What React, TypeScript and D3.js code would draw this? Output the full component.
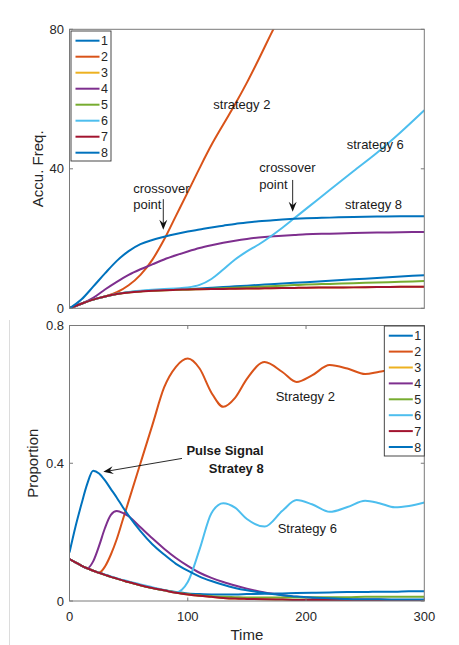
import React, { useEffect, useRef } from 'react';
import * as d3 from 'd3';

const seriesNames = ['1', '2', '3', '4', '5', '6', '7', '8'];
const seriesColors = ['#0072BD', '#D95319', '#EDB120', '#7E2F8E', '#77AC30', '#4DBEEE', '#A2142F', '#0072BD'];

// top panel: accumulated frequency
const accTime = [0, 10, 20, 30, 40, 50, 60, 70, 80, 90, 100, 110, 120, 130, 140, 150, 160, 170, 180, 190, 200, 220, 240, 260, 280, 300];
const acc1 = [0, 1.3, 2.5, 3.4, 4.1, 4.6, 4.9, 5.1, 5.25, 5.4, 5.5, 5.7, 5.9, 6.1, 6.3, 6.5, 6.7, 6.9, 7.1, 7.3, 7.5, 7.9, 8.3, 8.7, 9.1, 9.5];
const acc2 = [0, 1.3, 2.5, 3.4, 4.6, 6.6, 9.6, 13.9, 19.7, 26.5, 33.3, 40.2, 46.8, 52.7, 58.5, 64.7, 71.4, 78.4, 85.2, 91.8, 98.4, 111.6, 125, 138.4, 151.8, 165];
const acc3 = [0, 1.3, 2.5, 3.4, 4.1, 4.55, 4.85, 5.05, 5.2, 5.3, 5.4, 5.45, 5.5, 5.55, 5.6, 5.65, 5.7, 5.75, 5.8, 5.85, 5.9, 5.95, 6.0, 6.1, 6.15, 6.2];
const acc4 = [0, 1.3, 3.0, 5.4, 7.6, 9.6, 11.2, 12.6, 14.0, 15.2, 16.3, 17.3, 18.1, 18.8, 19.4, 19.9, 20.3, 20.6, 20.8, 21.0, 21.2, 21.4, 21.6, 21.7, 21.8, 21.9];
const acc5 = [0, 1.3, 2.5, 3.4, 4.1, 4.6, 4.9, 5.1, 5.2, 5.3, 5.4, 5.5, 5.6, 5.75, 5.9, 6.05, 6.2, 6.35, 6.5, 6.65, 6.8, 7.0, 7.2, 7.4, 7.6, 7.8];
const acc6 = [0, 1.3, 2.5, 3.4, 4.15, 4.7, 5.05, 5.3, 5.5, 5.7, 5.95, 6.7, 8.4, 11.1, 14.0, 16.3, 18.3, 20.6, 23.1, 25.8, 28.5, 33.9, 39.3, 44.6, 50.5, 56.8];
const acc7 = [0, 1.3, 2.5, 3.4, 4.1, 4.55, 4.85, 5.05, 5.2, 5.3, 5.4, 5.45, 5.5, 5.55, 5.6, 5.65, 5.7, 5.75, 5.8, 5.85, 5.9, 5.95, 6.0, 6.1, 6.15, 6.2];
const acc8 = [0, 2.5, 6.2, 10.0, 13.6, 16.4, 18.4, 19.6, 20.5, 21.3, 22.0, 22.6, 23.2, 23.7, 24.2, 24.6, 24.95, 25.2, 25.45, 25.65, 25.8, 26.0, 26.2, 26.3, 26.4, 26.4];

// bottom panel: proportion
const propTime = [0, 5, 10, 15, 20, 25, 30, 35, 40, 45, 50, 60, 70, 80, 90, 100, 110, 120, 130, 140, 150, 165, 180, 192, 205, 220, 235, 250, 262, 275, 287, 300];
const prop1 = [0.122, 0.112, 0.103, 0.095, 0.088, 0.082, 0.076, 0.07, 0.065, 0.06, 0.055, 0.046, 0.038, 0.031, 0.026, 0.022, 0.02, 0.019, 0.019, 0.019, 0.02, 0.021, 0.022, 0.023, 0.024, 0.025, 0.026, 0.026, 0.027, 0.027, 0.028, 0.028];
const prop2 = [0.122, 0.112, 0.103, 0.095, 0.088, 0.082, 0.1, 0.135, 0.18, 0.235, 0.29, 0.4, 0.51, 0.62, 0.68, 0.704, 0.675, 0.605, 0.564, 0.59, 0.645, 0.694, 0.665, 0.636, 0.655, 0.685, 0.675, 0.659, 0.666, 0.672, 0.669, 0.667];
const prop3 = [0.122, 0.112, 0.103, 0.095, 0.088, 0.082, 0.076, 0.07, 0.065, 0.06, 0.055, 0.046, 0.038, 0.031, 0.024, 0.019, 0.015, 0.012, 0.009, 0.007, 0.006, 0.005, 0.004, 0.003, 0.003, 0.003, 0.002, 0.002, 0.002, 0.002, 0.002, 0.002];
const prop4 = [0.122, 0.112, 0.103, 0.095, 0.115, 0.16, 0.212, 0.25, 0.261, 0.256, 0.246, 0.214, 0.182, 0.152, 0.125, 0.102, 0.082, 0.067, 0.055, 0.045, 0.036, 0.025, 0.017, 0.012, 0.009, 0.007, 0.005, 0.004, 0.004, 0.003, 0.003, 0.003];
const prop5 = [0.122, 0.112, 0.103, 0.095, 0.088, 0.082, 0.076, 0.07, 0.065, 0.06, 0.055, 0.046, 0.038, 0.031, 0.025, 0.02, 0.016, 0.014, 0.012, 0.011, 0.01, 0.01, 0.01, 0.01, 0.011, 0.011, 0.011, 0.012, 0.012, 0.012, 0.012, 0.012];
const prop6 = [0.122, 0.112, 0.103, 0.095, 0.088, 0.082, 0.077, 0.071, 0.066, 0.061, 0.057, 0.048, 0.04, 0.032, 0.025, 0.055, 0.15, 0.255, 0.284, 0.271, 0.238, 0.216, 0.262, 0.293, 0.281, 0.259, 0.273, 0.291, 0.284, 0.272, 0.276, 0.286];
const prop7 = [0.122, 0.112, 0.103, 0.095, 0.088, 0.082, 0.076, 0.07, 0.065, 0.06, 0.055, 0.046, 0.038, 0.031, 0.024, 0.019, 0.015, 0.012, 0.009, 0.007, 0.006, 0.005, 0.004, 0.003, 0.003, 0.003, 0.002, 0.002, 0.002, 0.002, 0.002, 0.002];
const prop8 = [0.141, 0.215, 0.28, 0.34, 0.378, 0.37, 0.35, 0.325, 0.3, 0.273, 0.248, 0.203, 0.165, 0.135, 0.108, 0.088, 0.071, 0.058, 0.047, 0.038, 0.031, 0.023, 0.017, 0.013, 0.01, 0.008, 0.006, 0.005, 0.005, 0.004, 0.004, 0.004];

const accTicks = [0, 40, 80];
const propTicks = [0, 0.4, 0.8];
const timeTicks = [0, 100, 200, 300];

const FONT = '"Liberation Sans", Arial, Helvetica, sans-serif';

function App() {
    const svgRef = useRef<SVGSVGElement>(null);

    useEffect(() => {
        drawChart();
    }, []);

    const drawChart = () => {
        const svg = d3.select(svgRef.current);
        svg.selectAll('*').remove();
        svg.attr('font-family', FONT);

        // faint separator left of the lower panel
        svg.append('line')
            .attr('x1', 9.5).attr('x2', 9.5)
            .attr('y1', 320).attr('y2', 645)
            .attr('stroke', '#dcdcdc');

        const x = d3.scaleLinear().domain([0, 300]).range([69.5, 424.3]);
        const yAcc = d3.scaleLinear().domain([0, 80]).range([308.3, 29.3]);
        const yProp = d3.scaleLinear().domain([0, 0.8]).range([601, 325.5]);

        const drawPanel = (id, y, yTicks, fmt, time, series, xTicks, legendX, legendY, legendStep) => {
            const [x0, x1] = x.range();
            const [y0, y1] = y.range();
            const g = svg.append('g');

            g.append('clipPath').attr('id', id)
                .append('rect')
                .attr('x', x0).attr('y', y1)
                .attr('width', x1 - x0).attr('height', y0 - y1);

            g.append('rect')
                .attr('x', x0).attr('y', y1)
                .attr('width', x1 - x0).attr('height', y0 - y1)
                .attr('fill', '#fff');

            const line = d3.line()
                .x((d, i) => x(time[i]))
                .y(d => y(d))
                .curve(d3.curveMonotoneX);

            g.append('g').attr('clip-path', `url(#${id})`)
                .selectAll('path')
                .data(series)
                .enter().append('path')
                .attr('d', d => line(d))
                .attr('fill', 'none')
                .attr('stroke', (d, i) => seriesColors[i])
                .attr('stroke-width', 2)
                .attr('stroke-linejoin', 'round');

            // box
            g.append('rect')
                .attr('x', x0).attr('y', y1)
                .attr('width', x1 - x0).attr('height', y0 - y1)
                .attr('fill', 'none')
                .attr('stroke', '#7a7a7a')
                .attr('stroke-width', 1);

            yTicks.forEach(t => {
                g.append('line').attr('x1', x0).attr('x2', x0 + 3.5)
                    .attr('y1', y(t)).attr('y2', y(t)).attr('stroke', '#7a7a7a');
                g.append('line').attr('x1', x1 - 3.5).attr('x2', x1)
                    .attr('y1', y(t)).attr('y2', y(t)).attr('stroke', '#7a7a7a');
                g.append('text')
                    .attr('x', x0 - 5.5).attr('y', y(t) + 4.5)
                    .attr('text-anchor', 'end')
                    .attr('font-size', 13)
                    .attr('fill', '#262626')
                    .text(fmt(t));
            });

            xTicks.forEach(t => {
                g.append('line').attr('x1', x(t)).attr('x2', x(t))
                    .attr('y1', y0).attr('y2', y0 - 3.5).attr('stroke', '#7a7a7a');
                g.append('line').attr('x1', x(t)).attr('x2', x(t))
                    .attr('y1', y1).attr('y2', y1 + 3.5).attr('stroke', '#7a7a7a');
                g.append('text')
                    .attr('x', x(t)).attr('y', y0 + 20)
                    .attr('text-anchor', 'middle')
                    .attr('font-size', 13)
                    .attr('fill', '#262626')
                    .text(t);
            });

            // legend
            const lg = g.append('g');
            lg.append('rect')
                .attr('x', legendX).attr('y', legendY)
                .attr('width', 40).attr('height', 130)
                .attr('fill', '#fff')
                .attr('stroke', '#333')
                .attr('stroke-width', 0.9);
            seriesNames.forEach((name, i) => {
                const ly = legendY + 9.7 + i * legendStep;
                lg.append('line')
                    .attr('x1', legendX + 4.5).attr('x2', legendX + 28.5)
                    .attr('y1', ly).attr('y2', ly)
                    .attr('stroke', seriesColors[i])
                    .attr('stroke-width', 2);
                lg.append('text')
                    .attr('x', legendX + 30).attr('y', ly + 4.5)
                    .attr('font-size', 12.5)
                    .attr('fill', '#262626')
                    .text(name);
            });
            return g;
        };

        drawPanel('clipAcc', yAcc, accTicks, d => d, accTime,
            [acc1, acc2, acc3, acc4, acc5, acc6, acc7, acc8], [], 71, 31, 16);
        drawPanel('clipProp', yProp, propTicks, d => d === 0 ? '0' : d.toFixed(1), propTime,
            [prop1, prop2, prop3, prop4, prop5, prop6, prop7, prop8], timeTicks, 384.3, 326, 15.9);

        // axis labels
        svg.append('text')
            .attr('transform', `translate(43,${(yAcc(0) + yAcc(80)) / 2}) rotate(-90)`)
            .attr('text-anchor', 'middle').attr('font-size', 15).attr('fill', '#262626')
            .text('Accu. Freq.');
        svg.append('text')
            .attr('transform', `translate(38,${(yProp(0) + yProp(0.8)) / 2}) rotate(-90)`)
            .attr('text-anchor', 'middle').attr('font-size', 15).attr('fill', '#262626')
            .text('Proportion');
        svg.append('text')
            .attr('x', (x(0) + x(300)) / 2).attr('y', 640)
            .attr('text-anchor', 'middle').attr('font-size', 15).attr('fill', '#262626')
            .text('Time');

        // annotations
        const label = (t, v, y, txt, opts = {}) => {
            svg.append('text')
                .attr('x', x(t)).attr('y', y(v))
                .attr('text-anchor', opts.anchor || 'start')
                .attr('font-size', 13)
                .attr('font-weight', opts.bold ? 'bold' : 'normal')
                .attr('fill', '#1a1a1a')
                .text(txt);
        };
        const arrow = (t1, v1, t2, v2, y) => {
            const ax = x(t1), ay = y(v1), bx = x(t2), by = y(v2);
            const len = Math.hypot(bx - ax, by - ay);
            const ux = (bx - ax) / len, uy = (by - ay) / len;
            const px = -uy, py = ux;
            svg.append('line')
                .attr('x1', ax).attr('y1', ay)
                .attr('x2', bx - ux * 6).attr('y2', by - uy * 6)
                .attr('stroke', '#111').attr('stroke-width', 0.9);
            const hl = 10, hw = 4, notch = 6.5;
            const pts = [
                [bx, by],
                [bx - ux * hl + px * hw, by - uy * hl + py * hw],
                [bx - ux * notch, by - uy * notch],
                [bx - ux * hl - px * hw, by - uy * hl - py * hw],
            ];
            svg.append('path')
                .attr('d', 'M' + pts.map(p => p.join(',')).join('L') + 'Z')
                .attr('fill', '#111');
        };

        label(53.9, 33.1, yAcc, 'crossover');
        label(53.9, 28.4, yAcc, 'point');
        arrow(79.3, 31.3, 79.3, 22.5, yAcc);
        label(160.5, 39.2, yAcc, 'crossover');
        label(160.5, 34.2, yAcc, 'point');
        arrow(188.7, 36.8, 188.7, 27.7, yAcc);
        label(121.6, 57.1, yAcc, 'strategy 2');
        label(234.4, 45.7, yAcc, 'strategy 6');
        label(232.9, 28.4, yAcc, 'strategy 8');

        label(164.2, 0.424, yProp, 'Pulse Signal', { anchor: 'end', bold: true });
        label(164.2, 0.371, yProp, 'Stratey 8', { anchor: 'end', bold: true });
        arrow(95.1, 0.414, 28.6, 0.375, yProp);
        label(174.3, 0.582, yProp, 'Strategy 2');
        label(176, 0.197, yProp, 'Strategy 6');
    };

    return (
        <svg ref={svgRef} width={459} height={645}
            style={{ position: 'absolute', left: 0, top: 0, background: '#fff' }}></svg>
    );
}

export default App;
